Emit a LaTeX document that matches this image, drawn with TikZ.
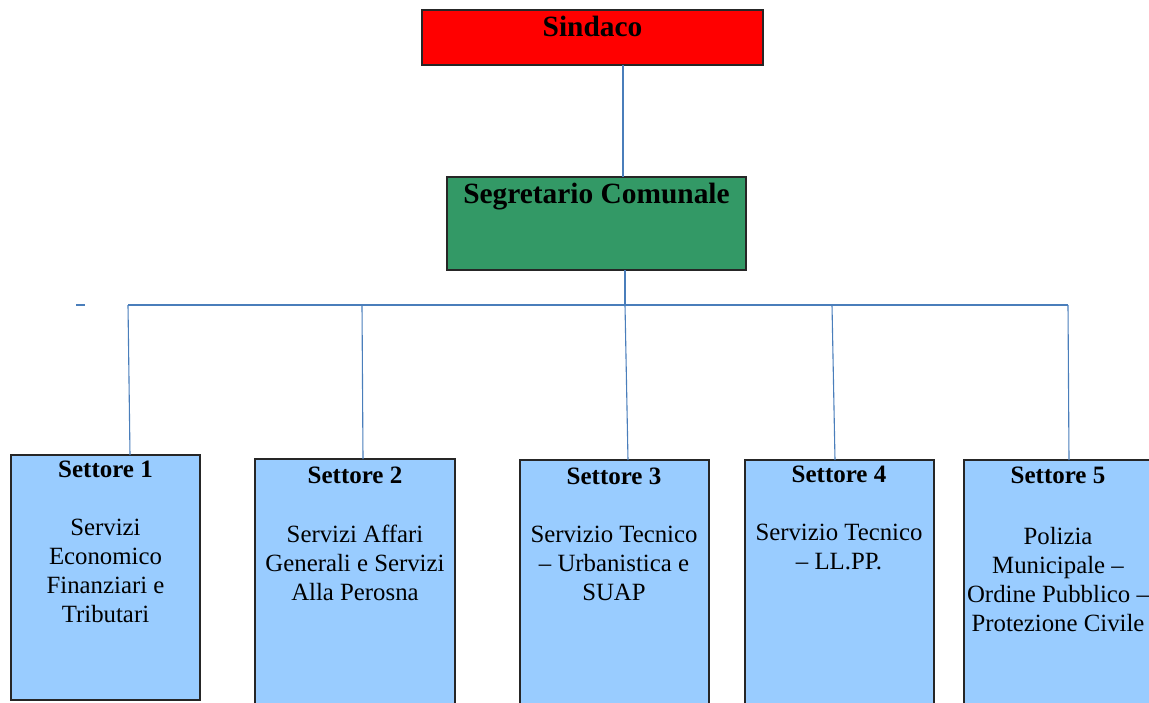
\documentclass[tikz,border=0pt]{standalone}
\usepackage{fontspec}
\setmainfont{Liberation Serif}
\begin{document}
\begin{tikzpicture}[x=1pt,y=-1pt,
  box/.style={draw=black!85, line width=1.2pt, inner sep=0pt, outer sep=0pt},
  conn/.style={draw=linkblue, line width=1.1pt},
  toptitle/.style={font=\fontsize{29.4}{33}\selectfont\bfseries, anchor=base, inner sep=0pt},
  settitle/.style={font=\fontsize{25}{29}\selectfont\bfseries, anchor=base, inner sep=0pt},
  setbody/.style={font=\fontsize{24.8}{29}\selectfont, anchor=north, align=center, inner sep=0pt}]
\definecolor{sindred}{HTML}{FF0000}
\definecolor{seggreen}{HTML}{339966}
\definecolor{setblue}{HTML}{99CCFF}
\definecolor{linkblue}{HTML}{4A7EBB}
\useasboundingbox (0,0) rectangle (1149,702);
\clip (0,0) rectangle (1149,702);
% top boxes
\node[box, fill=sindred, minimum width=341pt, minimum height=55pt, anchor=north west] (sind) at (422,10) {};
\node[box, fill=seggreen, minimum width=299pt, minimum height=93pt, anchor=north west] (seg) at (447,177) {};
\node[toptitle] (sindt) at (592.5,36) {Sindaco};
\node[toptitle] (segt) at (596.5,203) {Segretario Comunale};
% settore boxes
\node[box, fill=setblue, minimum width=189pt, minimum height=245pt, anchor=north west] (s1) at (11,455) {};
\node[box, fill=setblue, minimum width=200pt, minimum height=260pt, anchor=north west] (s2) at (255,459) {};
\node[box, fill=setblue, minimum width=189pt, minimum height=260pt, anchor=north west] (s3) at (520,460) {};
\node[box, fill=setblue, minimum width=189pt, minimum height=260pt, anchor=north west] (s4) at (745,460) {};
\node[box, fill=setblue, minimum width=200pt, minimum height=260pt, anchor=north west] (s5) at (964,460) {};
% settore texts
\node[settitle] (s1t) at (105.5,477) {Settore 1};
\node[setbody] (s1b) at (105.5,519) {Servizi\\Economico\\Finanziari e\\Tributari};
\node[settitle] (s2t) at (355,483) {Settore 2};
\node[setbody] (s2b) at (355,525) {Servizi Affari\\Generali e Servizi\\Alla Perosna};
\node[settitle] (s3t) at (614,484) {Settore 3};
\node[setbody] (s3b) at (614,526) {Servizio Tecnico\\– Urbanistica e\\SUAP};
\node[settitle] (s4t) at (839,482) {Settore 4};
\node[setbody] (s4b) at (839,524) {Servizio Tecnico\\– LL.PP.};
\node[settitle] (s5t) at (1058,483) {Settore 5};
\node[setbody] (s5b) at (1058,527) {Polizia\\Municipale –\\Ordine Pubblico –\\Protezione Civile};
% bus coordinates
\coordinate (sindb) at (623,65);
\coordinate (segtop) at (623,177);
\coordinate (segb) at (625,270);
\coordinate (busc) at (625,305);
\coordinate (bus1) at (128,305);
\coordinate (bus2) at (362,305);
\coordinate (bus3) at (625,305);
\coordinate (bus4) at (832,305);
\coordinate (bus5) at (1068,305);
\coordinate (in1) at (130,455);
\coordinate (in2) at (363,459);
\coordinate (in3) at (628,460);
\coordinate (in4) at (835,460);
\coordinate (in5) at (1069,460);
\coordinate (dashl) at (76,305);
\coordinate (dashr) at (85,305);
% connectors
\draw[conn] (sindb) -- (segtop);
\draw[conn] (segb) -- (busc);
\draw[conn] (bus1) -- (bus5);
\draw[conn] (bus1) -- (in1);
\draw[conn] (bus2) -- (in2);
\draw[conn] (bus3) -- (in3);
\draw[conn] (bus4) -- (in4);
\draw[conn] (bus5) -- (in5);
\draw[conn] (dashl) -- (dashr);
\end{tikzpicture}
\end{document}
